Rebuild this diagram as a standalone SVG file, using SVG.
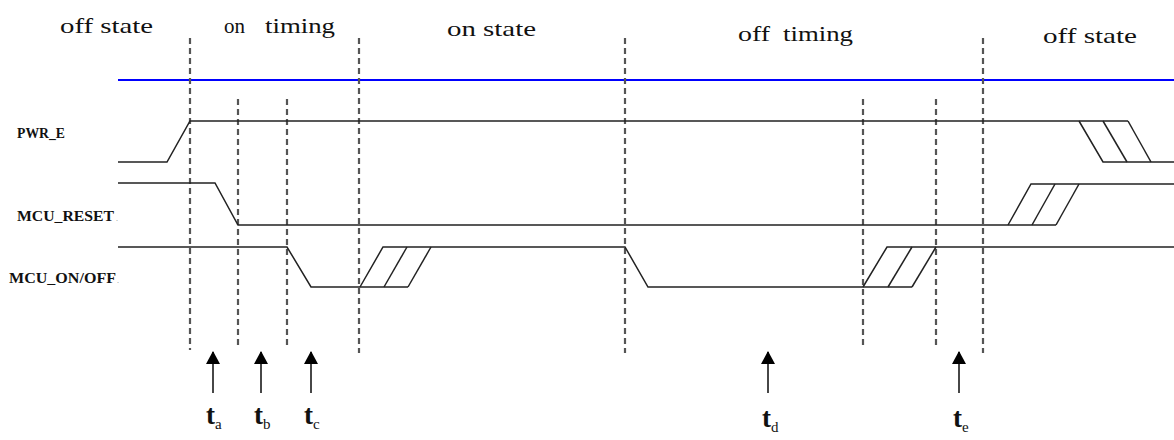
<svg xmlns="http://www.w3.org/2000/svg" width="1174" height="440" viewBox="0 0 1174 440">
<style>
.phase{font-family:"Liberation Serif","Times New Roman",serif;font-size:21px;fill:#111}
.sig{font-family:"Liberation Serif","Times New Roman",serif;font-size:14px;font-weight:bold;fill:#111}
.tl{font-family:"Liberation Serif","Times New Roman",serif;font-size:27px;font-weight:bold;fill:#111}
.sub{font-size:15px;font-weight:normal}
.dash{stroke:#555;stroke-width:2.2;stroke-dasharray:6 4;fill:none}
.wave{stroke:#222;stroke-width:1.5;fill:none;stroke-linejoin:miter}
.arr{stroke:#333;stroke-width:1.8;fill:none}
</style>
<defs>
<marker id="ah" viewBox="0 0 13 14" refX="12" refY="7" markerWidth="13" markerHeight="14" markerUnits="userSpaceOnUse" orient="auto">
<path d="M0,0 L13,7 L0,14 z" fill="#000"/>
</marker>
</defs>
<rect width="1174" height="440" fill="#fff"/>

<g id="phase-labels">
<text class="phase" x="60" y="33" textLength="93" lengthAdjust="spacingAndGlyphs">off state</text>
<text class="phase" y="33"><tspan x="224" textLength="21" lengthAdjust="spacingAndGlyphs">on</tspan> <tspan x="265" textLength="70" lengthAdjust="spacingAndGlyphs">timing</tspan></text>
<text class="phase" x="447" y="36" textLength="89" lengthAdjust="spacingAndGlyphs">on state</text>
<text class="phase" y="41"><tspan x="738" textLength="32" lengthAdjust="spacingAndGlyphs">off</tspan> <tspan x="783" textLength="70" lengthAdjust="spacingAndGlyphs">timing</tspan></text>
<text class="phase" x="1043" y="43" textLength="94" lengthAdjust="spacingAndGlyphs">off state</text>
</g>

<g id="supply-line">
<line x1="118" y1="80" x2="1174" y2="80" stroke="#0000ff" stroke-width="1.8"/>
</g>

<g id="boundaries">
<line class="dash" x1="190" y1="38" x2="190" y2="350"/>
<line class="dash" x1="238" y1="99" x2="238" y2="345"/>
<line class="dash" x1="287" y1="99" x2="287" y2="345"/>
<line class="dash" x1="359" y1="38" x2="359" y2="353"/>
<line class="dash" x1="625" y1="38" x2="625" y2="353"/>
<line class="dash" x1="863" y1="99" x2="863" y2="345"/>
<line class="dash" x1="936" y1="99" x2="936" y2="345"/>
<line class="dash" x1="983" y1="38" x2="983" y2="353"/>
</g>

<g id="signal-labels">
<text class="sig" x="17" y="138" textLength="48" lengthAdjust="spacingAndGlyphs">PWR_E</text>
<text class="sig" x="17" y="221" textLength="97" lengthAdjust="spacingAndGlyphs">MCU_RESET</text>
<text x="116" y="221" font-family="Liberation Serif, serif" font-size="8" fill="#888">.</text>
<text class="sig" x="9" y="283" textLength="107" lengthAdjust="spacingAndGlyphs">MCU_ON/OFF</text>
<text x="117" y="283" font-family="Liberation Serif, serif" font-size="8" fill="#888">.</text>
</g>

<g id="PWR_E">
<polyline class="wave" points="118,162 167,162 190,121 1128,121"/>
<polyline class="wave" points="1079,121 1103,162 1174,162"/>
<line class="wave" x1="1103" y1="121" x2="1127" y2="162"/>
<polyline class="wave" points="1128,121 1151,162"/>
</g>

<g id="MCU_RESET">
<polyline class="wave" points="118,183 215,183 238,225 1056,225"/>
<polyline class="wave" points="1008,225 1031,184 1174,184"/>
<line class="wave" x1="1032" y1="225" x2="1055" y2="184"/>
<polyline class="wave" points="1056,225 1079,184"/>
</g>

<g id="MCU_ON_OFF">
<polyline class="wave" points="118,247 287,247 311,287 408,287"/>
<polyline class="wave" points="360,287 383,247 625,247 648,287 912,287"/>
<line class="wave" x1="384" y1="287" x2="407" y2="247"/>
<line class="wave" x1="408" y1="287" x2="431" y2="247"/>
<polyline class="wave" points="863,287 887,247 1174,247"/>
<line class="wave" x1="888" y1="287" x2="912" y2="247"/>
<line class="wave" x1="912" y1="287" x2="936" y2="247"/>
</g>

<g id="connectors">
<line class="arr" x1="213" y1="393" x2="213" y2="352" marker-end="url(#ah)"/>
<line class="arr" x1="261" y1="393" x2="261" y2="352" marker-end="url(#ah)"/>
<line class="arr" x1="311" y1="393" x2="311" y2="352" marker-end="url(#ah)"/>
<line class="arr" x1="768" y1="393" x2="768" y2="352" marker-end="url(#ah)"/>
<line class="arr" x1="959" y1="393" x2="959" y2="352" marker-end="url(#ah)"/>
</g>

<g id="time-labels">
<text class="tl" x="206" y="424">t<tspan class="sub" dy="5">a</tspan></text>
<text class="tl" x="254" y="424">t<tspan class="sub" dy="5">b</tspan></text>
<text class="tl" x="304" y="424">t<tspan class="sub" dy="5">c</tspan></text>
<text class="tl" x="762" y="427">t<tspan class="sub" dy="5">d</tspan></text>
<text class="tl" x="953" y="427">t<tspan class="sub" dy="5">e</tspan></text>
</g>
</svg>
